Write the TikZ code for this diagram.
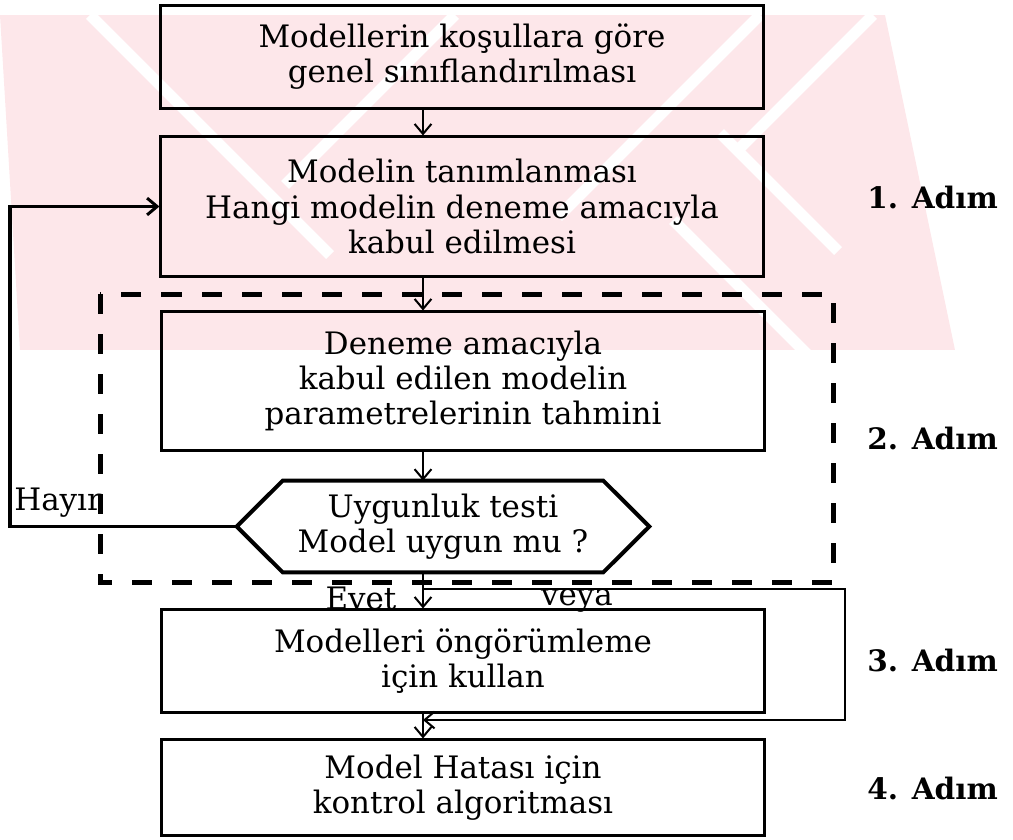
\documentclass[tikz,border=0pt]{standalone}
\usepackage{fontspec}
\setmainfont{DejaVu Serif}
\usetikzlibrary{arrows.meta}
\definecolor{wmpink}{RGB}{253,231,234}

\begin{document}
\begin{tikzpicture}
[
x = 0.025cm, y = -0.025cm,
>={Straight Barb[length=0.25cm,width=0.42cm]},
procbox/.style = {draw, line width=0.075cm, align=center, inner sep=0pt, minimum width=15.05cm, font=\fontsize{22}{25}\selectfont},
flowlabel/.style = {inner sep=0pt, font=\fontsize{22}{25}\selectfont},
steplabel/.style = {anchor=west, inner sep=0pt, font=\bfseries\fontsize{21}{24}\selectfont},
link/.style = {->, line width=0.05cm},
]

\useasboundingbox (0,0) rectangle (1013,840);

% watermark band
\begin{scope}
\clip (0,15) -- (885,15) -- (955,350) -- (20,350) -- cycle;
\fill[wmpink] (0,15) rectangle (960,350);
\foreach \xa/\ya/\xb/\yb in {90/15/330/255, 673/220/807/354, 720/133/838/251,
  455/15/285/185, 873/15/740/148, 760/15/558/217}
  \draw[white, line width=0.28cm] (\xa,\ya) -- (\xb,\yb);
\end{scope}

\coordinate (ax) at (423,0);
\coordinate (fb) at (10,0);

\node (genel) at (462,57) [procbox, minimum height=2.55cm] {Modellerin koşullara göre\\genel sınıflandırılması};

\node (tanim) at (462,206.5) [procbox, minimum height=3.475cm] {Modelin tanımlanması\\Hangi modelin deneme amacıyla\\kabul edilmesi};

\node (tahmin) at (463,381) [procbox, minimum height=3.45cm] {Deneme amacıyla\\kabul edilen modelin\\parametrelerinin tahmini};

\node (test) at (443,526.5) [flowlabel, align=center, minimum width=10.3cm, minimum height=2.275cm] {Uygunluk testi\\Model uygun mu ?};
\draw[line width=0.1cm] (test.west) -- ([xshift=1.15cm]test.north west) -- ([xshift=-1.15cm]test.north east) -- (test.east) -- ([xshift=-1.15cm]test.south east) -- ([xshift=1.15cm]test.south west) -- cycle;

\node (kullan) at (463,661) [procbox, minimum height=2.55cm] {Modelleri öngörümleme\\için kullan};

\node (kontrol) at (463,787.5) [procbox, minimum height=2.375cm] {Model Hatası için\\kontrol algoritması};

\draw[line width=0.125cm, dash pattern=on 0.5cm off 0.5cm] (100,294) rectangle (833,582);

\draw[link] (genel.south -| ax) -- (tanim.north -| ax);
\draw[link] (tanim.south -| ax) -- (tahmin.north -| ax);
\draw[link] (tahmin.south -| ax) -- (test.north -| ax);
\draw[link] (test.south -| ax) -- (kullan.north -| ax);
\draw[link] (kullan.south -| ax) -- (kontrol.north -| ax);
\draw[link, line width=0.075cm] (test.west) -- (test.west -| fb) |- (tanim.west);

\coordinate (vsplit) at (423,589);
\coordinate (vcorner) at (845,720);
\draw[link] (vsplit) -| (vcorner) -- (vcorner -| ax);

\node[flowlabel, anchor=base west] (hayir) at (14,510) {Hayır};
\node[flowlabel] (evet) at (361,598) {Evet};
\node[flowlabel] (veya) at (577,601) {veya};

\node[steplabel] (adim1) at (867,197) {1. Adım};
\node[steplabel] (adim2) at (867,438) {2. Adım};
\node[steplabel] (adim3) at (867,660) {3. Adım};
\node[steplabel] (adim4) at (867,788) {4. Adım};
\end{tikzpicture}
\end{document}
